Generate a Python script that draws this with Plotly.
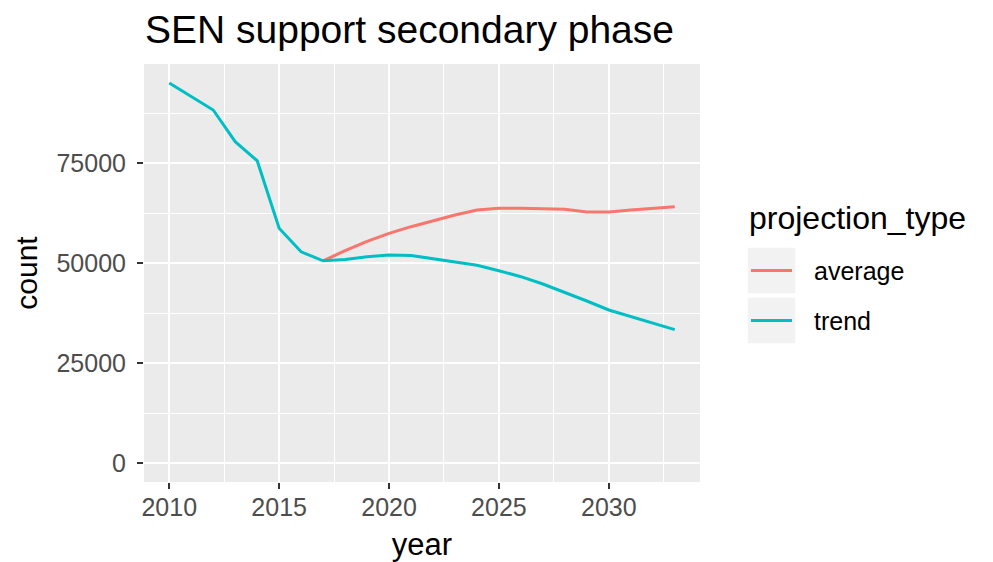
import plotly.graph_objects as go

# ---- data ----
years_trend = list(range(2010, 2034))
trend_counts = [95000, 91700, 88250, 80330, 75580, 58670, 52800, 50550,
                50900, 51550, 52000, 51900, 51080, 50330, 49420, 48080,
                46580, 44750, 42670, 40500, 38250, 36580, 34920, 33330]
years_avg = list(range(2017, 2034))
average_counts = [50550, 53080, 55400, 57420, 59080, 60580, 62000, 63250,
                  63670, 63670, 63580, 63420, 62750, 62750, 63250, 63580, 64080]
series_names = ["average", "trend"]
series_colors = ["#F8766D", "#00BFC4"]
x_ticks = [2010, 2015, 2020, 2025, 2030]
y_ticks = [0, 25000, 50000, 75000]
title_text = "SEN support secondary phase"
x_title = "year"
y_title = "count"
legend_title = "projection_type"

FONT = "Arial, Liberation Sans, sans-serif"
OFF = 8  # page body margin
W, H = 993 - OFF, 562 - OFF
# panel edges in page pixels
P_L, P_R, P_T, P_B = 144, 700, 64, 482
ML, MR, MT, MB = P_L - OFF, 993 - P_R, P_T - OFF, 562 - P_B
PW, PH = P_R - P_L, P_B - P_T

def px(xp):
    return (xp - P_L) / PW

def py(yp):
    return (P_B - yp) / PH

fig = go.Figure()
fig.add_trace(go.Scatter(x=years_avg, y=average_counts, mode="lines", name=series_names[0],
                         line=dict(color=series_colors[0], width=3), showlegend=False))
fig.add_trace(go.Scatter(x=years_trend, y=trend_counts, mode="lines", name=series_names[1],
                         line=dict(color=series_colors[1], width=3), showlegend=False))

xmin, xmax = min(years_trend), max(years_trend)
xspan = xmax - xmin
ymax = max(max(trend_counts), max(average_counts))

# ---- manual ggplot-style legend ----
shapes = []
annotations = []
annotations.append(dict(text=legend_title, x=px(747), y=py(218), xref="paper", yref="paper",
                        xanchor="left", yanchor="middle", showarrow=False,
                        font=dict(family=FONT, size=32, color="black")))
for i, (nm, col) in enumerate(zip(series_names, series_colors)):
    top = 247 + i * 50
    shapes.append(dict(type="rect", xref="paper", yref="paper",
                       x0=px(747), x1=px(796), y0=py(top), y1=py(top + 47),
                       fillcolor="#F2F2F2", line=dict(color="white", width=1.5), layer="above"))
    yc = top + 23.5
    shapes.append(dict(type="line", xref="paper", yref="paper",
                       x0=px(751), x1=px(792), y0=py(yc), y1=py(yc),
                       line=dict(color=col, width=3), layer="above"))
    annotations.append(dict(text=nm, x=px(812), y=py(yc), xref="paper", yref="paper",
                            xanchor="left", yanchor="middle", showarrow=False,
                            font=dict(family=FONT, size=25, color="black")))

fig.update_layout(
    width=W, height=H,
    margin=dict(l=ML, r=MR, t=MT, b=MB, autoexpand=False),
    paper_bgcolor="white",
    plot_bgcolor="#EBEBEB",
    showlegend=False,
    title=dict(text=title_text, x=(145 - OFF) / W, xref="container", xanchor="left",
               y=1 - (29 - OFF) / H, yref="container", yanchor="middle",
               font=dict(family=FONT, size=39, color="black")),
    xaxis=dict(range=[xmin - 0.05 * xspan, xmax + 0.05 * xspan],
               tickvals=x_ticks, ticktext=[str(v) for v in x_ticks],
               showgrid=True, gridcolor="white", gridwidth=2,
               zeroline=False, showline=False,
               ticks="outside", ticklen=6, tickwidth=2, tickcolor="#333333",
               tickfont=dict(family=FONT, size=25, color="#4D4D4D"),
               ticklabelstandoff=-3,
               minor=dict(tickvals=[2012.5, 2017.5, 2022.5, 2027.5, 2032.5],
                          showgrid=True, gridcolor="white", gridwidth=1, ticks=""),
               title=dict(text=x_title, standoff=14,
                          font=dict(family=FONT, size=31, color="black"))),
    yaxis=dict(range=[-0.05 * ymax, 1.05 * ymax],
               tickvals=y_ticks, ticktext=[str(v) for v in y_ticks],
               showgrid=True, gridcolor="white", gridwidth=2,
               zeroline=False, showline=False,
               ticks="outside", ticklen=6, tickwidth=2, tickcolor="#333333",
               tickfont=dict(family=FONT, size=25, color="#4D4D4D"),
               ticklabelstandoff=6,
               minor=dict(tickvals=[12500, 37500, 62500, 87500],
                          showgrid=True, gridcolor="white", gridwidth=1, ticks=""),
               title=dict(text=y_title, standoff=9,
                          font=dict(family=FONT, size=30, color="black"))),
    shapes=shapes,
    annotations=annotations,
)

fig.write_html("out.html")
